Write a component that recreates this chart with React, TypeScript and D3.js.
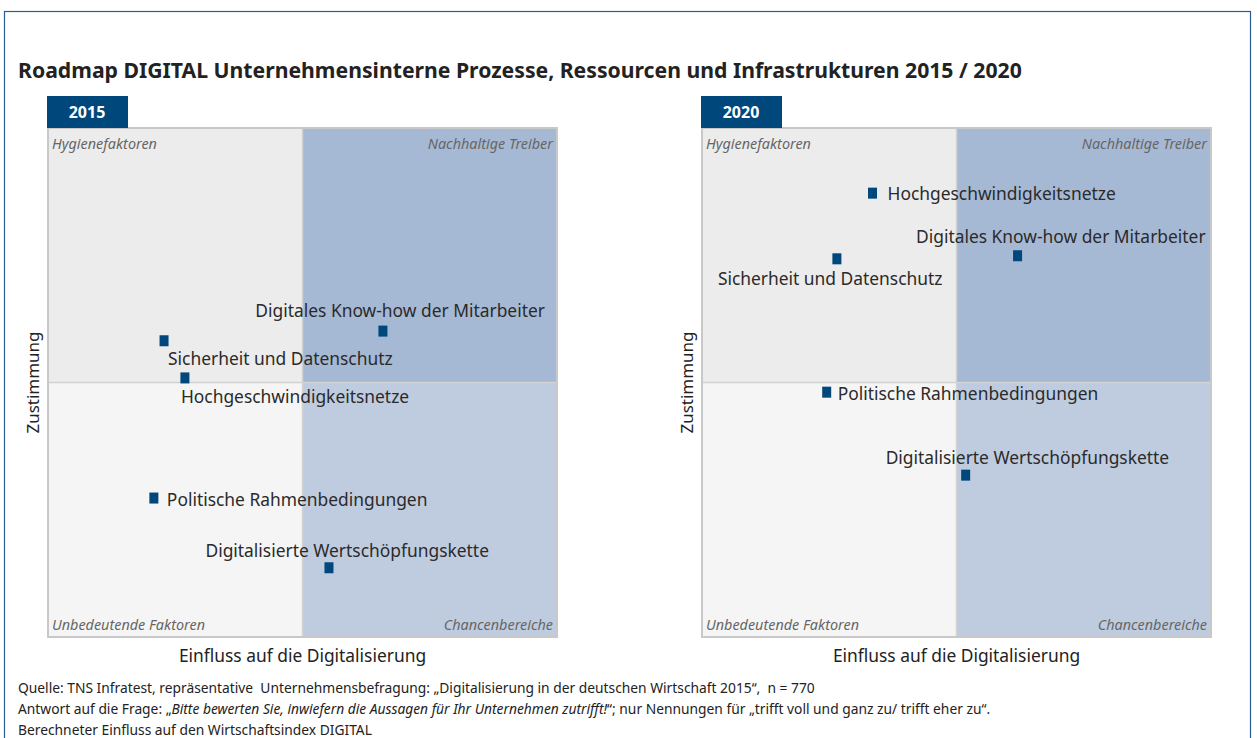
import { useEffect, useRef } from 'react';
import * as d3 from 'd3';

const W = 1257;
const H = 738;

const years = ['2015', '2020'];
const topics = [
  'Digitales Know-how der Mitarbeiter',
  'Sicherheit und Datenschutz',
  'Hochgeschwindigkeitsnetze',
  'Politische Rahmenbedingungen',
  'Digitalisierte Wertschöpfungskette',
];
// Einfluss auf die Digitalisierung (x) / Zustimmung (y), scale 0..100
const einfluss2015 = [65.8, 22.8, 26.9, 20.8, 55.2];
const zustimmung2015 = [60.1, 58.2, 50.9, 27.3, 13.6];
const einfluss2020 = [62.0, 26.5, 33.5, 24.5, 51.8];
const zustimmung2020 = [74.9, 74.3, 87.2, 48.1, 31.8];

const quadrantNames = ['Hygienefaktoren', 'Nachhaltige Treiber', 'Unbedeutende Faktoren', 'Chancenbereiche'];

// label placement per topic: [anchor, dx, dy]
const labelPos2015: [string, number, number][] = [
  ['end', 162, -21],
  ['start', 4, 17],
  ['start', -4, 18],
  ['start', 13, 1],
  ['end', 160, -18],
];
const labelPos2020: [string, number, number][] = [
  ['end', 188, -20],
  ['start', -119, 19],
  ['start', 15, 0],
  ['start', 11, 1],
  ['start', -80, -18],
];

const FONT = '"Noto Sans", Lato, sans-serif';
const BLUE = '#00477c';

const App = () => {
  const svgRef = useRef<SVGSVGElement>(null);

  useEffect(() => {
    if (!svgRef.current) return;
    const svg = d3.select(svgRef.current);
    svg.selectAll('*').remove();

    svg.append('rect').attr('width', W).attr('height', H).attr('fill', '#fff');

    // outer frame
    svg.append('rect')
      .attr('x', 4.5).attr('y', 11.5)
      .attr('width', 1246).attr('height', 760)
      .attr('fill', 'none')
      .attr('stroke', '#2a5d8f')
      .attr('stroke-width', 1.2);

    svg.append('text')
      .attr('x', 18).attr('y', 78)
      .attr('font-family', FONT)
      .attr('font-weight', 700)
      .attr('font-size', 21.2)
      .attr('fill', '#222')
      .text('Roadmap DIGITAL Unternehmensinterne Prozesse, Ressourcen und Infrastrukturen 2015 / 2020');

    const panels = [
      { year: years[0], left: 48, xs: einfluss2015, ys: zustimmung2015, pos: labelPos2015 },
      { year: years[1], left: 702, xs: einfluss2020, ys: zustimmung2020, pos: labelPos2020 },
    ];
    const top = 128;
    const size = 509;

    panels.forEach(p => {
      const x = d3.scaleLinear().domain([0, 100]).range([p.left, p.left + size]);
      const y = d3.scaleLinear().domain([0, 100]).range([top + size, top]);
      const g = svg.append('g');

      const quads = [
        { x0: 0, y0: 100, fill: '#ececec' },
        { x0: 50, y0: 100, fill: '#a6b9d4' },
        { x0: 0, y0: 50, fill: '#f5f5f5' },
        { x0: 50, y0: 50, fill: '#bfcce0' },
      ];
      g.selectAll('rect.q')
        .data(quads)
        .enter()
        .append('rect')
        .attr('class', 'q')
        .attr('x', d => x(d.x0))
        .attr('y', d => y(d.y0))
        .attr('width', x(50) - x(0))
        .attr('height', y(0) - y(50))
        .attr('fill', d => d.fill);

      // mid lines
      g.append('line')
        .attr('x1', x(50)).attr('x2', x(50)).attr('y1', y(0)).attr('y2', y(100))
        .attr('stroke', '#d2d2d2').attr('stroke-width', 1.5);
      g.append('line')
        .attr('x1', x(0)).attr('x2', x(100)).attr('y1', y(50)).attr('y2', y(50))
        .attr('stroke', '#d2d2d2').attr('stroke-width', 1.5);

      g.append('rect')
        .attr('x', x(0)).attr('y', y(100))
        .attr('width', size).attr('height', size)
        .attr('fill', 'none')
        .attr('stroke', '#c8c8c8')
        .attr('stroke-width', 2);

      // year tab
      g.append('rect')
        .attr('x', p.left - 1).attr('y', 96)
        .attr('width', 81).attr('height', 32)
        .attr('fill', BLUE);
      g.append('text')
        .attr('x', p.left + 39).attr('y', 112)
        .attr('text-anchor', 'middle')
        .attr('dominant-baseline', 'central')
        .attr('font-family', FONT)
        .attr('font-weight', 700)
        .attr('font-size', 16)
        .attr('fill', '#fff')
        .text(p.year);

      // quadrant names
      const qn = [
        { t: quadrantNames[0], xx: x(0) + 4, yy: y(100) + 21, a: 'start' },
        { t: quadrantNames[1], xx: x(100) - 4, yy: y(100) + 21, a: 'end' },
        { t: quadrantNames[2], xx: x(0) + 4, yy: y(0) - 7, a: 'start' },
        { t: quadrantNames[3], xx: x(100) - 4, yy: y(0) - 7, a: 'end' },
      ];
      g.selectAll('text.qn')
        .data(qn)
        .enter()
        .append('text')
        .attr('class', 'qn')
        .attr('x', d => d.xx)
        .attr('y', d => d.yy)
        .attr('text-anchor', d => d.a)
        .attr('font-family', FONT)
        .attr('font-style', 'italic')
        .attr('font-size', 14.4)
        .attr('fill', '#666')
        .text(d => d.t);

      // points
      const pts = topics.map((t, i) => ({ t, vx: p.xs[i], vy: p.ys[i], pos: p.pos[i] }));
      g.selectAll('rect.pt')
        .data(pts)
        .enter()
        .append('rect')
        .attr('class', 'pt')
        .attr('x', d => x(d.vx) - 4.5)
        .attr('y', d => y(d.vy) - 5.5)
        .attr('width', 9)
        .attr('height', 11)
        .attr('fill', BLUE);

      g.selectAll('text.lbl')
        .data(pts)
        .enter()
        .append('text')
        .attr('class', 'lbl')
        .attr('x', d => x(d.vx) + d.pos[1])
        .attr('y', d => y(d.vy) + d.pos[2])
        .attr('text-anchor', d => d.pos[0])
        .attr('dominant-baseline', 'central')
        .attr('font-family', FONT)
        .attr('font-size', 17.4)
        .attr('fill', '#2a2a2a')
        .text(d => d.t);

      // axis titles
      g.append('text')
        .attr('x', x(50)).attr('y', 655)
        .attr('text-anchor', 'middle')
        .attr('dominant-baseline', 'central')
        .attr('font-family', FONT)
        .attr('font-size', 17.4)
        .attr('fill', '#222')
        .text('Einfluss auf die Digitalisierung');
      g.append('text')
        .attr('transform', `translate(${p.left - 16},${y(50)}) rotate(-90)`)
        .attr('text-anchor', 'middle')
        .attr('dominant-baseline', 'central')
        .attr('font-family', FONT)
        .attr('font-size', 17)
        .attr('fill', '#222')
        .text('Zustimmung');
    });

    // footer
    const foot = svg.append('g')
      .attr('font-family', FONT)
      .attr('font-size', 13.8)
      .attr('fill', '#222');
    foot.append('text')
      .attr('x', 18).attr('y', 693)
      .attr('xml:space', 'preserve')
      .text('Quelle: TNS Infratest, repräsentative  Unternehmensbefragung: „Digitalisierung in der deutschen Wirtschaft 2015“,  n = 770');
    const l2 = foot.append('text').attr('x', 18).attr('y', 714);
    l2.append('tspan').text('Antwort auf die Frage: „');
    l2.append('tspan').attr('font-style', 'italic').text('Bitte bewerten Sie, inwiefern die Aussagen für Ihr Unternehmen zutrifft!');
    l2.append('tspan').text('“; nur Nennungen für „trifft voll und ganz zu/ trifft eher zu“.');
    foot.append('text')
      .attr('x', 18).attr('y', 735)
      .text('Berechneter Einfluss auf den Wirtschaftsindex DIGITAL');
  }, []);

  return (
    <svg
      ref={svgRef}
      width={W}
      height={H}
      style={{ position: 'absolute', left: 0, top: 0, display: 'block' }}
    />
  );
};

export default App;
